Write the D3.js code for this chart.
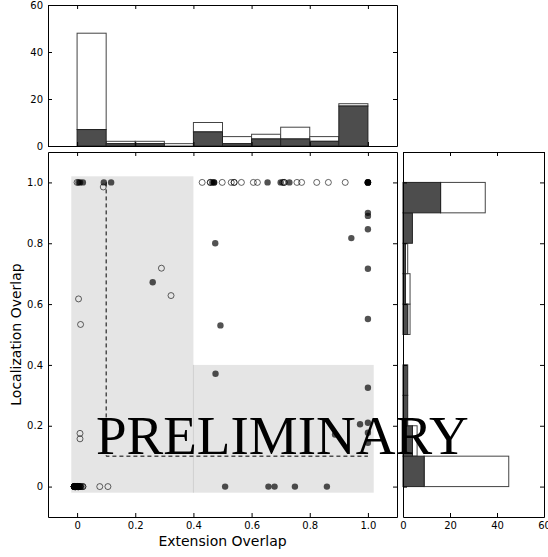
<!DOCTYPE html>
<html>
<head>
<meta charset="utf-8">
<script src="https://cdn.jsdelivr.net/npm/d3@7"></script>
<style>
  body { margin: 0; background: #fff; }
  svg { display: block; }
  .tick text { font-family: "DejaVu Sans", sans-serif; font-size: 10px; fill: #000; }
  .axis-label { font-family: "DejaVu Sans", sans-serif; font-size: 14px; fill: #000; }
</style>
</head>
<body>
<div id="chart"></div>
<script>

// bin edges shared by both histograms
var binEdges = [0, 0.1, 0.2, 0.3, 0.4, 0.5, 0.6, 0.7, 0.8, 0.9, 1.0];

// top histogram (extension overlap), stacked: dark then total
var topDark  = [7, 1, 1, 0, 6, 1, 3, 3, 2, 17];
var topTotal = [48, 2, 2, 1, 10, 4, 5, 8, 4, 18];

// right histogram (localization overlap), bins from 0 upward
var rightDark  = [9, 4, 2, 2, 0, 2, 1, 1, 4, 16];
var rightTotal = [45, 6, 2, 2, 0, 3, 3, 2, 4, 35];

// scatter points: [extension, localization, how many stacked on the spot]
var filledPts = [
  [0.005, 1, 1], [0.01, 1, 1], [0.02, 1, 1], [0.092, 1, 1], [0.117, 1, 1],
  [0.465, 1, 1], [0.471, 1, 2], [0.655, 1, 1], [0.70, 1, 1], [0.73, 1, 1], [1.0, 1, 5],
  [0.475, 0.8, 1], [0.493, 0.53, 1], [0.476, 0.371, 1], [0.26, 0.672, 1],
  [1.0, 0.9, 1], [1.0, 0.89, 1], [1.0, 0.846, 1], [0.943, 0.817, 1], [1.0, 0.716, 1],
  [1.0, 0.551, 1], [1.0, 0.325, 1], [0.973, 0.205, 1], [1.0, 0.21, 1], [1.0, 0.177, 1],
  [1.0, 0.144, 1], [0.887, 0.171, 1],
  [0.509, 0, 1], [0.658, 0, 1], [0.679, 0, 1], [0.749, 0, 1], [0.859, 0, 1],
  [-0.005, 0, 1], [0.0, 0, 2], [0.015, 0, 1]
];
var openPts = [
  [0.0, 1, 1], [0.09, 0.985, 1], [0.43, 1, 1], [0.458, 1, 2], [0.499, 1, 1],
  [0.53, 1, 1], [0.54, 1, 2], [0.565, 1, 1], [0.606, 1, 1], [0.62, 1, 1],
  [0.707, 1, 1], [0.712, 1, 2], [0.756, 1, 1], [0.772, 1, 1], [0.824, 1, 1],
  [0.864, 1, 1], [0.922, 1, 1],
  [0.29, 0.718, 1], [0.323, 0.628, 1], [0.005, 0.617, 1], [0.012, 0.533, 1],
  [0.01, 0.175, 1], [0.01, 0.157, 1],
  [0.078, 0, 1], [0.106, 0, 1],
  [-0.01, 0, 8], [-0.005, 0, 8], [0.0, 0, 8], [0.005, 0, 5], [0.01, 0, 3], [0.02, 0, 2]
];

// shaded regions [x0, x1, y0, y1] and dashed guide [x, y] vertices
var regions = [[-0.02, 0.4, -0.02, 1.02], [0.4, 1.02, -0.02, 0.4]];
var guide = [[0.1, 1.0], [0.1, 0.1], [1.0, 0.1]];

var mainTicks = [0, 0.2, 0.4, 0.6, 0.8, 1.0];
var histTicks = [0, 20, 40, 60];

var W = 548, H = 557;
var main = {left: 48, right: 397, top: 152, bottom: 517};
var topBox = {left: 48, right: 397, top: 5, bottom: 146};
var rightBox = {left: 403, right: 544, top: 152, bottom: 517};

var svg = d3.select("#chart").append("svg")
    .attr("width", W)
    .attr("height", H);

var x = d3.scaleLinear().domain([-0.1, 1.1]).range([main.left, main.right]);
var y = d3.scaleLinear().domain([-0.1, 1.1]).range([main.bottom, main.top]);
var yTop = d3.scaleLinear().domain([0, 60]).range([topBox.bottom, topBox.top]);
var xRight = d3.scaleLinear().domain([0, 60]).range([rightBox.left, rightBox.right]);

var fmtMain = function(d) { return d === 0 ? "0" : d3.format(".1f")(d); };
var noLabel = function() { return ""; };

// draws a matplotlib style frame: spines on all four sides, ticks pointing inward
function frame(box, xs, ys, xv, yv, showX, showY) {
  var g = svg.append("g");
  g.append("g")
      .attr("transform", "translate(0," + box.bottom + ")")
      .call(d3.axisBottom(xs).tickValues(xv).tickSize(-4).tickSizeOuter(0).tickPadding(5)
        .tickFormat(showX ? showX : noLabel));
  g.append("g")
      .attr("transform", "translate(0," + box.top + ")")
      .call(d3.axisTop(xs).tickValues(xv).tickSize(-4).tickSizeOuter(0).tickFormat(noLabel));
  g.append("g")
      .attr("transform", "translate(" + box.left + ",0)")
      .call(d3.axisLeft(ys).tickValues(yv).tickSize(-4).tickSizeOuter(0).tickPadding(5)
        .tickFormat(showY ? showY : noLabel));
  g.append("g")
      .attr("transform", "translate(" + box.right + ",0)")
      .call(d3.axisRight(ys).tickValues(yv).tickSize(-4).tickSizeOuter(0).tickFormat(noLabel));
  g.selectAll(".domain").attr("stroke", "#000");
  g.selectAll(".tick line").attr("stroke", "#000");
  return g;
}

// ---- main scatter ----
var plot = svg.append("g");

plot.selectAll("rect.region")
    .data(regions)
  .enter().append("rect")
    .attr("class", "region")
    .attr("x", d => x(d[0]))
    .attr("width", d => x(d[1]) - x(d[0]))
    .attr("y", d => y(d[3]))
    .attr("height", d => y(d[2]) - y(d[3]))
    .attr("fill", "#e5e5e5");

// seam where the two regions meet
plot.append("line")
    .attr("x1", x(0.4)).attr("x2", x(0.4))
    .attr("y1", y(0.4)).attr("y2", y(-0.02))
    .attr("stroke", "#cfcfcf")
    .attr("stroke-width", 1);

plot.append("path")
    .datum(guide)
    .attr("d", d3.line().x(d => x(d[0])).y(d => y(d[1])))
    .attr("fill", "none")
    .attr("stroke", "#000")
    .attr("stroke-width", 1)
    .attr("stroke-dasharray", "4,3");

var expand = function(pts) {
  return pts.flatMap(p => d3.range(p[2]).map(() => p));
};

plot.append("g").selectAll("circle")
    .data(expand(openPts))
  .enter().append("circle")
    .attr("cx", d => x(d[0]))
    .attr("cy", d => y(d[1]))
    .attr("r", 3)
    .attr("fill", "none")
    .attr("stroke", "#000")
    .attr("stroke-opacity", 0.6)
    .attr("stroke-width", 1);

plot.append("g").selectAll("circle")
    .data(expand(filledPts))
  .enter().append("circle")
    .attr("cx", d => x(d[0]))
    .attr("cy", d => y(d[1]))
    .attr("r", 3.2)
    .attr("fill", "#000")
    .attr("fill-opacity", 0.68);

frame(main, x, y, mainTicks, mainTicks, fmtMain, fmtMain);

svg.append("text")
    .attr("class", "axis-label")
    .attr("x", (main.left + main.right) / 2)
    .attr("y", 546)
    .attr("text-anchor", "middle")
    .text("Extension Overlap");

svg.append("text")
    .attr("class", "axis-label")
    .attr("transform", "translate(21," + (main.top + main.bottom) / 2 + ") rotate(-90)")
    .attr("text-anchor", "middle")
    .text("Localization Overlap");

// ---- top histogram ----
var topBars = svg.append("g");
var topBins = d3.range(topDark.length);

topBars.selectAll("rect.total")
    .data(topBins.filter(i => topTotal[i] > topDark[i]))
  .enter().append("rect")
    .attr("x", i => x(binEdges[i]))
    .attr("width", i => x(binEdges[i + 1]) - x(binEdges[i]))
    .attr("y", i => yTop(topTotal[i]))
    .attr("height", i => yTop(topDark[i]) - yTop(topTotal[i]))
    .attr("fill", "#fff")
    .attr("stroke", "#444");

topBars.selectAll("rect.dark")
    .data(topBins.filter(i => topDark[i] > 0))
  .enter().append("rect")
    .attr("x", i => x(binEdges[i]))
    .attr("width", i => x(binEdges[i + 1]) - x(binEdges[i]))
    .attr("y", i => yTop(topDark[i]))
    .attr("height", i => yTop(0) - yTop(topDark[i]))
    .attr("fill", "#4d4d4d")
    .attr("stroke", "#222");

frame(topBox, x, yTop, mainTicks, histTicks, null, d3.format("d"));

// ---- right histogram ----
var rightBars = svg.append("g");
var rightBins = d3.range(rightDark.length);

rightBars.selectAll("rect.total")
    .data(rightBins.filter(i => rightTotal[i] > rightDark[i]))
  .enter().append("rect")
    .attr("x", i => xRight(rightDark[i]))
    .attr("width", i => xRight(rightTotal[i]) - xRight(rightDark[i]))
    .attr("y", i => y(binEdges[i + 1]))
    .attr("height", i => y(binEdges[i]) - y(binEdges[i + 1]))
    .attr("fill", "#fff")
    .attr("stroke", "#444");

rightBars.selectAll("rect.dark")
    .data(rightBins.filter(i => rightDark[i] > 0))
  .enter().append("rect")
    .attr("x", xRight(0))
    .attr("width", i => xRight(rightDark[i]) - xRight(0))
    .attr("y", i => y(binEdges[i + 1]))
    .attr("height", i => y(binEdges[i]) - y(binEdges[i + 1]))
    .attr("fill", "#4d4d4d")
    .attr("stroke", "#222");

frame(rightBox, xRight, y, histTicks, mainTicks, d3.format("d"), null);

// watermark on top of everything
svg.append("text")
    .attr("x", 96)
    .attr("y", 453.5)
    .style("font-family", "'Liberation Serif', 'Times New Roman', serif")
    .style("font-size", "55px")
    .attr("fill", "#000")
    .text("PRELIMINARY");

</script>
</body>
</html>
